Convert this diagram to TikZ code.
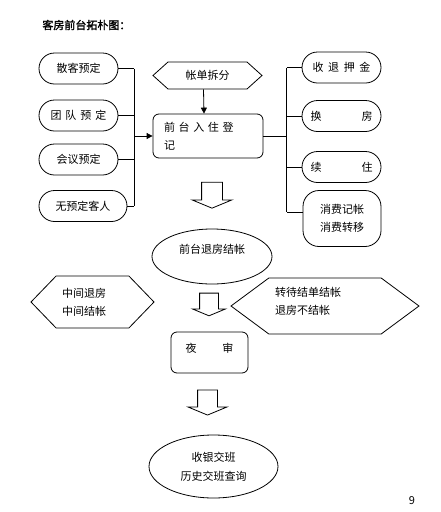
\documentclass[tikz,border=0pt]{standalone}
\usepackage{fontspec}
\setmainfont{Noto Sans CJK SC}[AutoFakeBold=2]
\usetikzlibrary{shapes.misc,shapes.geometric,shapes.symbols,shapes.arrows,arrows.meta}

\begin{document}
\begin{tikzpicture}[x=1pt,y=-1pt,line width=0.8pt,
  every node/.style={font=\fontsize{11}{18}\selectfont,inner sep=0pt},
  pill/.style={draw,rounded rectangle,minimum width=79pt,minimum height=31pt},
  roundbox/.style={draw,rectangle,rounded corners=6pt},
  hexa/.style={draw,signal,signal from=nowhere,signal to=west and east,align=left},
  oval/.style={draw,ellipse,align=center},
  hollow/.style={draw,single arrow,shape border rotate=270,inner sep=10pt,single arrow head extend=9.5pt,single arrow tip angle=135,minimum width=0pt,minimum height=26pt},
  link/.style={-{Triangle[length=6pt,width=6pt]}}]
\useasboundingbox (0,0) rectangle (440,512);
\node[font=\bfseries\fontsize{11}{13}\selectfont,anchor=west] (title) at (42,25) {客房前台拓朴图：};
\node[pill] (sanke) at (78.5,68.5) {散客预定};
\node[pill] (tuandui) at (78.5,115.5) {\makebox[56pt][s]{团 队 预 定}};
\node[pill] (huiyi) at (78.5,159.5) {会议预定};
\node[pill,minimum width=88pt] (wuyuding) at (83,206) {无预定客人};
\node[hexa,minimum width=109pt,minimum height=27pt,signal pointer angle=84] (zhangdan) at (207.5,75.5) {帐单拆分};
\node[roundbox,minimum width=110pt,minimum height=44pt,text width=88pt,align=left] (ruzhu) at (208,136) {\makebox[88pt][s]{前 台 入 住 登}\\记};
\node[pill] (shoutui) at (341.5,67.5) {\makebox[58pt][s]{收 退 押 金}};
\node[pill] (huanfang) at (341.5,116) {\makebox[62pt][s]{换 房}};
\node[pill] (xuzhu) at (341.5,167) {\makebox[62pt][s]{续 住}};
\node[roundbox,rounded corners=16pt,minimum width=78pt,minimum height=56pt,align=left] (xiaofei) at (342,218.5) {消费记帐\\消费转移};
\coordinate (lbus) at (134,136);
\coordinate (rbus) at (286.5,136);
\draw (sanke.east) -- (sanke.east -| lbus);
\draw (tuandui.east) -- (tuandui.east -| lbus);
\draw (huiyi.east) -- (huiyi.east -| lbus);
\draw (wuyuding.east) -- (wuyuding.east -| lbus);
\draw (sanke.east -| lbus) -- (wuyuding.east -| lbus);
\draw[link] (lbus) -- (ruzhu.west);
\draw[link] ([xshift=-4pt]zhangdan.south) -- ([xshift=-4pt]ruzhu.north);
\draw (ruzhu.east) -- (rbus);
\draw (shoutui.west) -- (shoutui.west -| rbus);
\draw (huanfang.west) -- (huanfang.west -| rbus);
\draw (xuzhu.west) -- (xuzhu.west -| rbus);
\draw ([yshift=6.5pt]xiaofei.west) -- ([yshift=6.5pt]xiaofei.west -| rbus);
\draw (shoutui.west -| rbus) -- ([yshift=6.5pt]xiaofei.west -| rbus);
\node[hollow] (down1) at (212,193) {};
\node[oval,minimum width=120pt,minimum height=55pt,text depth=16pt] (jiezhang) at (212,256.5) {前台退房结帐};
\node[hexa,minimum width=123pt,minimum height=52pt,signal pointer angle=92,text width=61pt] (zhongjian) at (92.5,302) {中间退房\\中间结帐};
\node[hollow,inner sep=9pt,single arrow head extend=7pt,minimum height=21pt] (down2) at (209,302.5) {};
\node[hexa,minimum width=188pt,minimum height=56pt,signal pointer angle=73,text width=100pt,text depth=29pt] (zhuandai) at (325,306) {转待结单结帐\\退房不结帐};
\node[roundbox,minimum width=77pt,minimum height=41pt,text depth=10pt] (yeshen) at (209.5,352.5) {\makebox[48pt][s]{夜 审}};
\node[hollow,inner sep=9.5pt,minimum height=25pt] (down3) at (207.5,400.5) {};
\node[oval,minimum width=129pt,minimum height=63pt,font=\fontsize{11}{19}\selectfont] (jiaoban) at (213.5,466.5) {收银交班\\历史交班查询};
\node (page) at (412,501) {9};
\end{tikzpicture}
\end{document}
